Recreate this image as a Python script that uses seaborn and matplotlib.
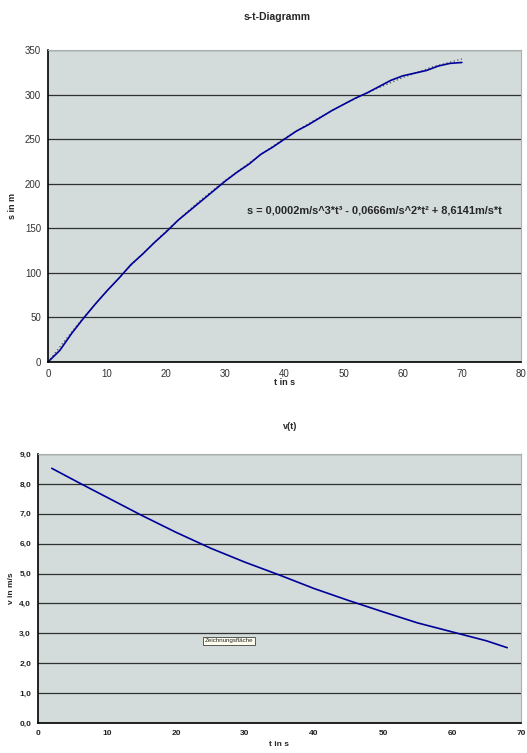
import numpy as np
import matplotlib
matplotlib.use("Agg")
import matplotlib.pyplot as plt
from matplotlib.ticker import FuncFormatter
import seaborn as sns
import pandas as pd

# s-t Messwerte
t_s = [0, 2, 4, 6, 8, 10, 12, 14, 16, 18, 20, 22, 24, 26, 28, 30, 32, 34, 36,
       38, 40, 42, 44, 46, 48, 50, 52, 54, 56, 58, 60, 62, 64, 66, 68, 70]
s_val = [0, 13, 32, 49, 65, 80, 94, 109, 121, 134, 146, 159, 170, 181, 192,
         203, 213, 222, 233, 241, 250, 259, 266, 274, 282, 289, 296, 302, 309,
         316, 321, 324, 327, 332, 335, 336]
# Trendlinie (gepunktet), aus dem Bild gelesen
t_trend = [0, 5, 10, 15, 20, 25, 30, 35, 40, 45, 50, 55, 60, 65, 70]
s_trend = [0, 42, 80, 115, 147, 177, 204, 228, 251, 271, 289, 305, 319, 331, 340]
equation = "s = 0,0002m/s^3*t\u00b3 - 0,0666m/s^2*t\u00b2 + 8,6141m/s*t"

# v(t)
t_v = [2, 6, 10, 15, 20, 25, 30, 35, 40, 45, 50, 55, 60, 65, 68]
v_val = [8.52, 8.03, 7.55, 6.95, 6.38, 5.85, 5.38, 4.95, 4.50, 4.10, 3.72,
         3.35, 3.05, 2.75, 2.52]

sns.set_style("white")
plt.rcParams['font.family'] = ['Liberation Sans', 'DejaVu Sans']

bg = "#D3DBDB"
blue = "#000099"

fig = plt.figure(figsize=(5.27, 7.53), dpi=100)
ax1 = fig.add_axes([0.0911, 0.5193, 0.8975, 0.4143])
ax2 = fig.add_axes([0.0721, 0.0398, 0.9165, 0.3573])

df_s = pd.DataFrame({"t": t_s, "s": s_val})
df_tr = pd.DataFrame({"t": t_trend, "s": s_trend})
df_v = pd.DataFrame({"t": t_v, "v": v_val})

for ax in (ax1, ax2):
    ax.set_facecolor(bg)
    for sp in ("top", "right"):
        ax.spines[sp].set_color("#A8B0B0")
        ax.spines[sp].set_linewidth(0.8)
    for sp in ("left", "bottom"):
        ax.spines[sp].set_color("black")
        ax.spines[sp].set_linewidth(1.2)
    ax.yaxis.grid(True, color="#303030", linewidth=0.9)
    ax.set_axisbelow(True)
    ax.tick_params(axis="both", direction="out", length=3, width=1,
                   color="black", pad=2)

# oberes Diagramm
sns.lineplot(data=df_tr, x="t", y="s", ax=ax1, color="#505050",
             linestyle=(0, (1, 2)), linewidth=0.9)
sns.lineplot(data=df_s, x="t", y="s", ax=ax1, color=blue, linewidth=1.2)
ax1.set_xlim(0, 80)
ax1.set_ylim(0, 350)
ax1.set_xticks(range(0, 81, 10))
ax1.set_yticks(range(0, 351, 50))
ax1.tick_params(labelsize=7, labelcolor="#333333")
ax1.set_xlabel("t in s", fontsize=6.5, fontweight="bold", labelpad=-1)
ax1.set_ylabel("s in m", fontsize=6.5, fontweight="bold", labelpad=6)
ax1.text(0.42, 0.487, equation, transform=ax1.transAxes, fontsize=7.9,
         fontweight="bold", va="center", ha="left")
fig.text(0.526, 0.977, "s-t-Diagramm", fontsize=7.5, fontweight="bold",
         ha="center", va="center")

# unteres Diagramm
sns.lineplot(data=df_v, x="t", y="v", ax=ax2, color=blue, linewidth=1.2)
ax2.set_xlim(0, 70)
ax2.set_ylim(0, 9)
ax2.set_xticks(range(0, 71, 10))
ax2.set_yticks(np.arange(0, 9.1, 1.0))
ax2.yaxis.set_major_formatter(FuncFormatter(lambda y, p: f"{y:.1f}".replace(".", ",")))
ax2.tick_params(labelsize=6, labelcolor="#222222")
for lab in ax2.get_xticklabels() + ax2.get_yticklabels():
    lab.set_fontweight("bold")
ax2.set_xlabel("t in s", fontsize=6, fontweight="bold", labelpad=3)
ax2.set_ylabel("v in m/s", fontsize=6, fontweight="bold", labelpad=3)
fig.text(0.55, 0.433, "v(t)", fontsize=6.5, fontweight="bold",
         ha="center", va="center")
fig.text(0.435, 0.149, "Zeichnungsfläche", fontsize=4.5, ha="center",
         va="center",
         bbox=dict(boxstyle="square,pad=0.25", facecolor="#FFFFF0",
                   edgecolor="#404040", linewidth=0.6))

fig.savefig("out.png", dpi=100)
